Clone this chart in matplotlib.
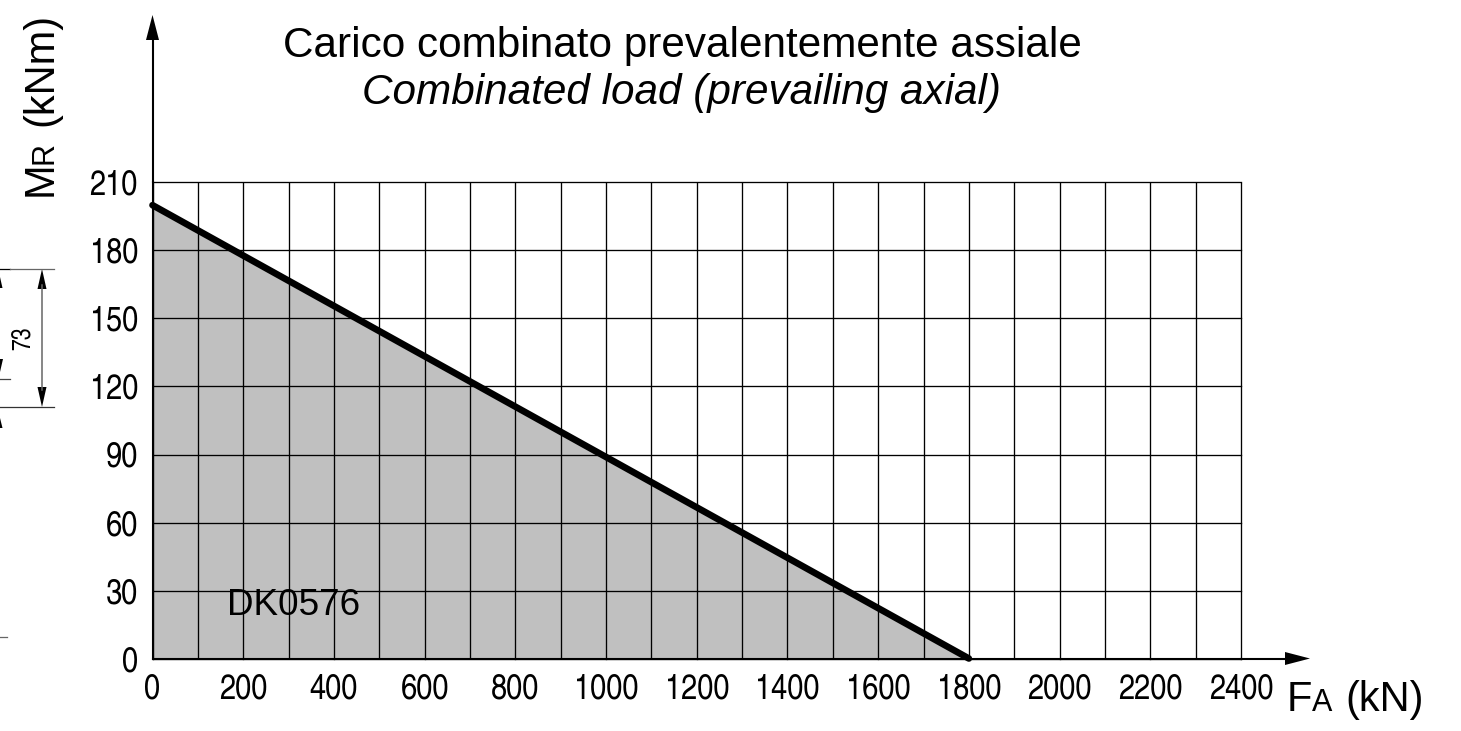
import matplotlib
matplotlib.use('Agg')
import matplotlib.pyplot as plt
from matplotlib.patches import Polygon
from matplotlib.lines import Line2D
from matplotlib.transforms import Affine2D

W, H = 1461, 731
load_x = [0, 1800]
load_y = [200, 0]
x_major = list(range(0, 2401, 200))
x_minor = list(range(100, 2400, 200))
y_major = list(range(0, 211, 30))
title_it = 'Carico combinato prevalentemente assiale'
title_en = 'Combinated load (prevailing axial)'
model = 'DK0576'

NARROW = ['TeX Gyre Heros Cn', 'Liberation Sans']
SANS = 'Liberation Sans'

fig = plt.figure(figsize=(W/100, H/100), dpi=100, facecolor='white')
x0, x1, y0, y1 = 152.5, 1241, 658.5, 182.5
ax = fig.add_axes([x0/W, 1-y0/H, (x1-x0)/W, (y0-y1)/H])
ax.set_xlim(0, 2400)
ax.set_ylim(0, 210)
ax.set_facecolor('none')
ax.set_axisbelow(False)
for s in ('top', 'right'):
    ax.spines[s].set_visible(False)
for s in ('left', 'bottom'):
    ax.spines[s].set_linewidth(1.5)
ax.set_xticks(x_major)
ax.set_xticks(x_minor, minor=True)
ax.set_yticks(y_major)
ax.grid(which='both', color='black', lw=0.95)
for gl in ax.get_xgridlines() + ax.get_ygridlines():
    gl.set_clip_on(False)
ax.tick_params(which='both', length=0)
ax.tick_params(axis='x', pad=11, labelsize=25.5)
ax.tick_params(axis='y', pad=10.5, labelsize=25.5)
for t in ax.get_xticklabels() + ax.get_yticklabels():
    t.set_family(NARROW)
ax.fill_between(load_x, load_y, 0, color='#C0C0C0', lw=0, zorder=1)
ax.plot(load_x, load_y, color='black', lw=4.8, solid_capstyle='round', zorder=4, clip_on=False)
ax.text(165, 19, model, family=SANS, fontsize=26.6, va='baseline', ha='left', zorder=5)

px = Affine2D().scale(1, -1).translate(0, H)   # pixel coords, y down
def line(xs, ys, c='black', lw=1.0):
    fig.add_artist(Line2D(xs, ys, color=c, lw=lw, transform=px))
def tri(pts):
    fig.add_artist(Polygon(pts, closed=True, fc='black', ec='none', transform=px))

# axis arrows
line([x0, x0], [182, 35], lw=1.5)
tri([(152.5, 15), (146, 40), (159, 40)])
line([1241, 1290], [y0, y0], lw=1.5)
tri([(1310, 658.5), (1285, 652), (1285, 665)])

# leftover dimension fragment
line([0, 10], [268.5, 268.5], lw=0.9)
line([10, 54], [268.5, 268.5], c='#666666', lw=0.9)
line([0, 54], [407, 407], c='#333333', lw=0.9)
line([42, 42], [285, 390], c='#666666', lw=1.1)
tri([(42, 269), (37.5, 289), (46.5, 289)])
tri([(42, 407), (37.5, 387), (46.5, 387)])
line([0, 10], [378.5, 378.5], c='#444444', lw=0.9)
line([0, 7], [636.5, 636.5], c='#666666', lw=0.9)
tri([(0, 277), (2.5, 288), (0, 288)])
tri([(0, 418), (2.5, 428), (0, 428)])
tri([(0, 359), (3, 359), (0, 372)])
fig.text(23/W, 1-338/H, '73', family=NARROW, fontsize=18.5, rotation=90, ha='center', va='center')

# titles
fig.text(682/W, 1-46/H, title_it, family=SANS, fontsize=30.4, ha='center', va='center')
fig.text(682/W, 1-93/H, title_en, family=SANS, style='italic', fontsize=30.4, ha='center', va='center')

# axis names
fs = 30
fig.text(52/W, 1-196/H, 'M', family=SANS, fontsize=fs, rotation=90, ha='left', va='baseline', rotation_mode='anchor')
fig.text(52/W, 1-164/H, 'R', family=SANS, fontsize=22, rotation=90, ha='left', va='baseline', rotation_mode='anchor')
fig.text(52/W, 1-126/H, '(kNm)', family=SANS, fontsize=fs, rotation=90, ha='left', va='baseline', rotation_mode='anchor')
fig.text(1287/W, 1-711/H, 'F', family=SANS, fontsize=fs, ha='left', va='baseline')
fig.text(1312/W, 1-711/H, 'A', family=SANS, fontsize=22, ha='left', va='baseline')
fig.text(1345/W, 1-711/H, '(kN)', family=SANS, fontsize=fs, ha='left', va='baseline')

fig.savefig('out.png', dpi=100)
